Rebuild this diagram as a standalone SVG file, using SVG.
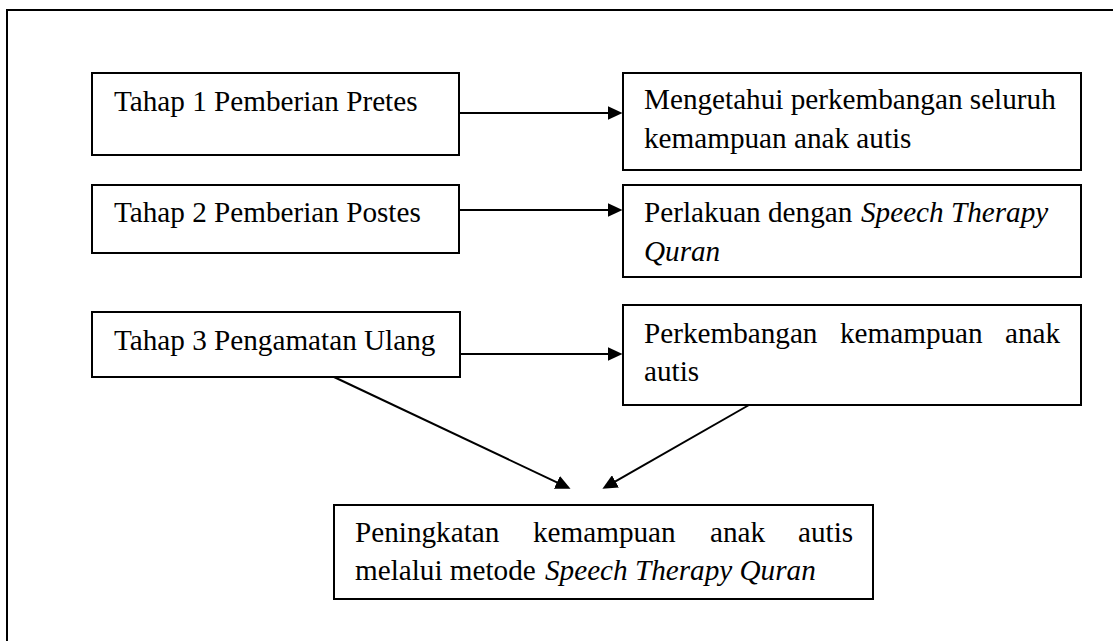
<svg xmlns="http://www.w3.org/2000/svg" width="1113" height="641" viewBox="0 0 1113 641">
<style>
.box{fill:#fff;stroke:#000;stroke-width:2}
.t{font-family:"Liberation Serif","Times New Roman",serif;font-size:29.2px;fill:#000}
.i{font-style:italic}
.c{stroke:#000;stroke-width:2;fill:none}
</style>
<defs>
<marker id="ah" markerUnits="userSpaceOnUse" markerWidth="15" markerHeight="14" viewBox="0 0 15 14" refX="0.5" refY="7" orient="auto">
<path d="M0,0 L15,7 L0,14 Z" fill="#000"/>
</marker>
</defs>
<rect width="1113" height="641" fill="#fff"/>
<path d="M7,645 V10 H1120" fill="none" stroke="#000" stroke-width="2"/>
<g id="connectors">
<line class="c" x1="459" y1="113" x2="608" y2="113" marker-end="url(#ah)"/>
<line class="c" x1="459" y1="210" x2="608" y2="210" marker-end="url(#ah)"/>
<line class="c" x1="460" y1="354" x2="608" y2="354" marker-end="url(#ah)"/>
<line class="c" x1="334" y1="377" x2="557.4" y2="482.6" marker-end="url(#ah)"/>
<line class="c" x1="749" y1="405" x2="615" y2="481.6" marker-end="url(#ah)"/>
</g>
<g id="tahap1">
<rect class="box" x="92" y="73" width="367" height="82"/>
<text class="t" x="114" y="110.5">Tahap 1 Pemberian Pretes</text>
</g>
<g id="tahap2">
<rect class="box" x="92" y="185" width="367" height="68"/>
<text class="t" x="114" y="221.5">Tahap 2 Pemberian Postes</text>
</g>
<g id="tahap3">
<rect class="box" x="92" y="312" width="368" height="65"/>
<text class="t" x="114" y="350">Tahap 3 Pengamatan Ulang</text>
</g>
<g id="hasil1">
<rect class="box" x="623" y="73" width="458" height="97"/>
<text class="t" x="644" y="109">Mengetahui perkembangan seluruh</text>
<text class="t" x="644" y="148">kemampuan anak autis</text>
</g>
<g id="hasil2">
<rect class="box" x="623" y="185" width="458" height="92"/>
<text class="t" x="644" y="222">Perlakuan dengan <tspan class="i" x="861">Speech Therapy</tspan></text>
<text class="t i" x="644" y="260.5">Quran</text>
</g>
<g id="hasil3">
<rect class="box" x="623" y="305" width="458" height="100"/>
<text class="t" y="343"><tspan x="644">Perkembangan</tspan> <tspan x="840">kemampuan</tspan> <tspan x="1005">anak</tspan></text>
<text class="t" x="644" y="381">autis</text>
</g>
<g id="peningkatan">
<rect class="box" x="334" y="505" width="539" height="94"/>
<text class="t" y="542"><tspan x="355">Peningkatan</tspan> <tspan x="533">kemampuan</tspan> <tspan x="710">anak</tspan> <tspan x="798">autis</tspan></text>
<text class="t" x="355" y="580">melalui metode <tspan class="i" x="545">Speech Therapy Quran</tspan></text>
</g>
</svg>
